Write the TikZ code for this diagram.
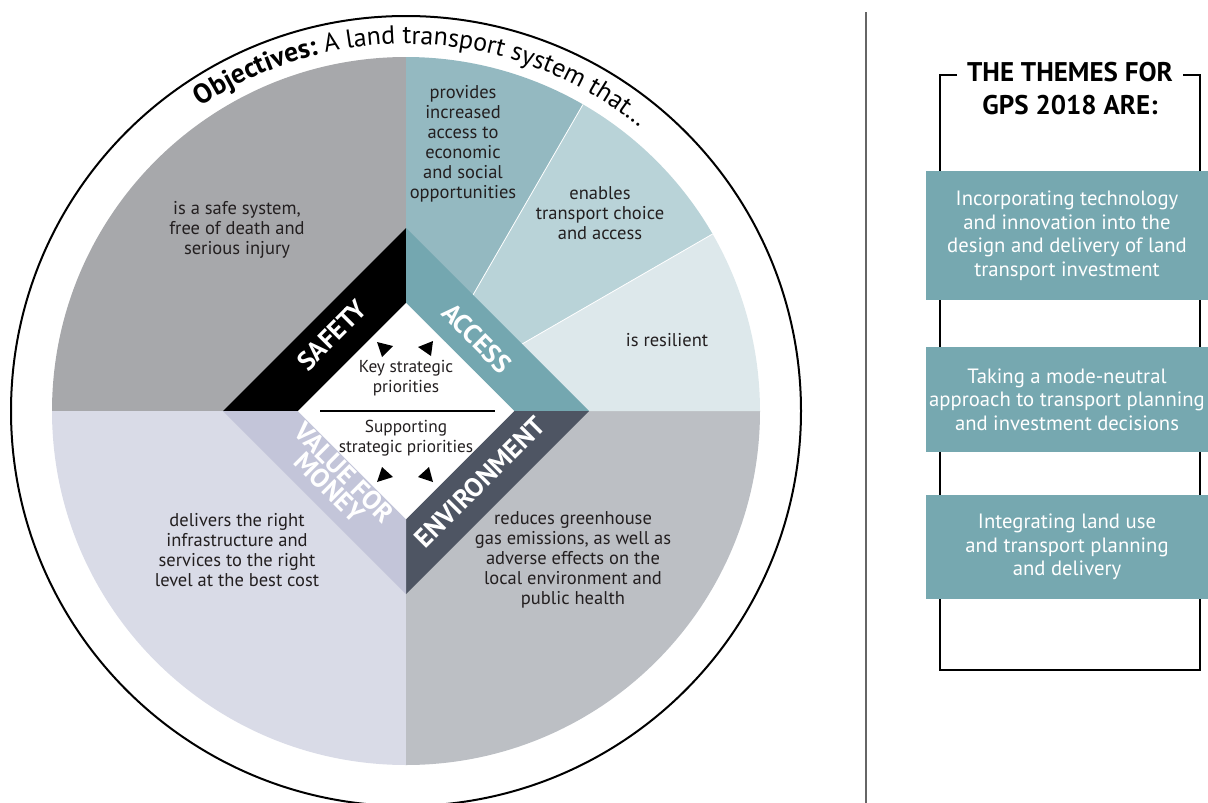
\documentclass[tikz,border=0pt]{standalone}
\usepackage{fontspec}
\setmainfont{PT Sans}
\usetikzlibrary{decorations.text}

\definecolor{ink}{HTML}{231F20}
\definecolor{safegray}{HTML}{A7A8AB}
\definecolor{vfmfill}{HTML}{D9DBE7}
\definecolor{envfill}{HTML}{BCBFC4}
\definecolor{accA}{HTML}{94B9C1}
\definecolor{accB}{HTML}{B9D3D8}
\definecolor{accC}{HTML}{DDE8EB}
\definecolor{accessband}{HTML}{74A7B0}
\definecolor{envband}{HTML}{4E5563}
\definecolor{vfmband}{HTML}{C3C5D9}
\definecolor{themefill}{HTML}{76A8B0}
\definecolor{rulegray}{HTML}{666666}

\begin{document}
\begin{tikzpicture}[x=1pt,y=1pt,
  objtext/.style={font=\fontsize{18.5}{20}\selectfont, text=ink, align=center, inner sep=0},
  centretext/.style={font=\fontsize{17.3}{20}\selectfont, text=ink, align=center, inner sep=0},
  bandlabel/.style={font=\fontsize{26.5}{21}\selectfont\bfseries, text=white, align=center, inner sep=0},
  themebox/.style={fill=themefill, minimum width=282, inner sep=0, align=center,
    text=white, font=\fontsize{20.7}{23.5}\selectfont},
  pointer/.style={fill=black},
  bracket/.style={draw=black, line width=1.3}
]
\useasboundingbox (0,0) rectangle (1208,-803);

% ---------- objectives wheel ----------
\begin{scope}[shift={(406,-411)}]
  % outer ring
  \draw[line width=2] (0,0) circle (395);
  % quadrant sectors
  \fill[safegray] (0,0) -- (90:354) arc[start angle=90, end angle=180, radius=354] -- cycle;
  \fill[vfmfill] (0,0) -- (180:354) arc[start angle=180, end angle=270, radius=354] -- cycle;
  \fill[envfill] (0,0) -- (270:354) arc[start angle=270, end angle=360, radius=354] -- cycle;
  \fill[accA] (0,0) -- (60:354) arc[start angle=60, end angle=90, radius=354] -- cycle;
  \fill[accB] (0,0) -- (30:354) arc[start angle=30, end angle=60, radius=354] -- cycle;
  \fill[accC] (0,0) -- (0:354) arc[start angle=0, end angle=30, radius=354] -- cycle;
  \draw[white, line width=0.8] (0,0) -- (60:354) (0,0) -- (30:354);

  % priority bands around the centre
  \fill[black] (0,183) -- (-183,0) -- (-108,0) -- (0,108) -- cycle;
  \fill[accessband] (0,183) -- (183,0) -- (108,0) -- (0,108) -- cycle;
  \fill[envband] (0,-183) -- (183,0) -- (108,0) -- (0,-108) -- cycle;
  \fill[vfmband] (0,-183) -- (-183,0) -- (-108,0) -- (0,-108) -- cycle;
  \fill[white] (0,108) -- (108,0) -- (0,-108) -- (-108,0) -- cycle;
  \draw[line width=1.2] (-86,0) -- (89,0);

  % pointers towards the four bands
  \fill[pointer] (-29,69) -- (-13,65) -- (-24,54) -- cycle;
  \fill[pointer] (27,70) -- (12,64) -- (25,55) -- cycle;
  \fill[pointer] (-29,-71) -- (-13,-66) -- (-24,-56) -- cycle;
  \fill[pointer] (27,-71) -- (12,-66) -- (23,-56) -- cycle;

  \node[centretext] (key) at (0,33) {Key strategic\\priorities};
  \node[centretext] (supp) at (0,-27) {Supporting\\strategic priorities};

  \node[bandlabel, rotate=45] (safety) at (-74,76) {SAFETY};
  \node[bandlabel, rotate=-45] (access) at (71,73) {ACCESS};
  \node[bandlabel, rotate=45] (env) at (74,-71) {ENVIRONMENT};
  \node[bandlabel, rotate=-45] (vfm) at (-69,-69) {VALUE FOR\\MONEY};

  % heading running along the ring
  \path[decorate, decoration={text along path, text align=left,
    text={|\fontsize{27.5}{28}\selectfont\bfseries|Objectives:|\fontsize{26}{28}\selectfont| A land transport system that…}}]
    (124:367) arc[start angle=124, end angle=30, radius=367];
\end{scope}

% objective statements
\node[objtext] (o1) at (237,-230) {is a safe system,\\free of death and\\serious injury};
\node[objtext] (o2) at (463,-144) {provides\\increased\\access to\\economic\\and social\\opportunities};
\node[objtext] (o3) at (600,-213) {enables\\transport choice\\and access};
\node[objtext] (o4) at (667,-340) {is resilient};
\node[objtext] (o5) at (237,-550) {delivers the right\\infrastructure and\\services to the right\\level at the best cost};
\node[objtext] (o6) at (573,-560) {reduces greenhouse\\gas emissions, as well as\\adverse effects on the\\local environment and\\public health};

% ---------- themes panel ----------
\draw[rulegray, line width=1.5] (866,-12) -- (866,-803);

\node[font=\fontsize{27}{33}\selectfont\bfseries, text=black, align=center, inner sep=0]
  (title) at (1070,-89) {THE THEMES FOR\\GPS 2018 ARE:};
\draw[bracket] (957,-75) -- (940,-75) -- (940,-670) -- (1200,-670) -- (1200,-75) -- (1183,-75);

\node[themebox, minimum height=129] (t1) at (1067,-235.5)
  {Incorporating technology\\and innovation into the\\design and delivery of land\\transport investment};
\node[themebox, minimum height=105] (t2) at (1067,-399.5)
  {Taking a mode-neutral\\approach to transport planning\\and investment decisions};
\node[themebox, minimum height=104] (t3) at (1067,-547)
  {Integrating land use\\and transport planning\\and delivery};
\end{tikzpicture}
\end{document}
